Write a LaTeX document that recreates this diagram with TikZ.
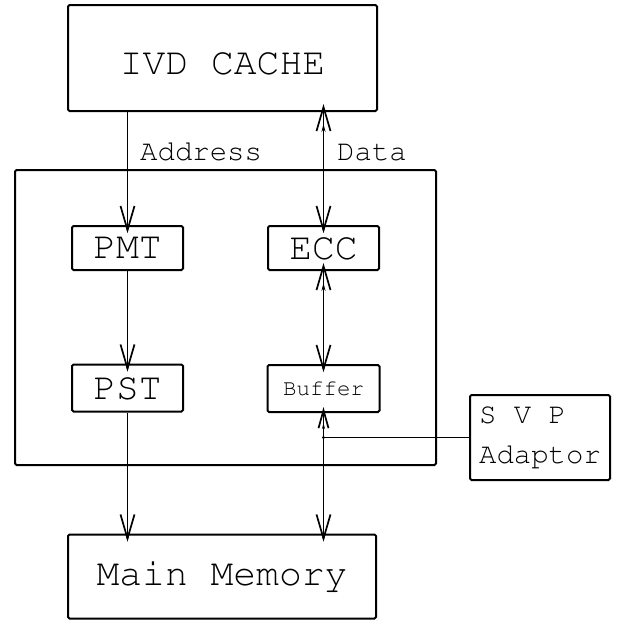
\documentclass[tikz,border=0pt]{standalone}
\usepackage[T1]{fontenc}
\usepackage{tikz}
\usetikzlibrary{arrows.meta, positioning, calc}
\renewcommand{\ttdefault}{pcr}

\begin{document}
\begin{tikzpicture}[
  x=1pt, y=-1pt,
  tipend/.tip={Straight Barb[length=24pt, width=14pt, sep=-8pt] Stealth[length=8pt, width=4pt, sep=-8pt]},
  tipstart/.tip={Stealth[length=8pt, width=4pt, sep=-8pt] Straight Barb[length=24pt, width=14pt, sep=-8pt]},
  tipsmall/.tip={Stealth[length=6pt, width=3pt, sep=-6pt] Straight Barb[length=18pt, width=10pt, sep=-6pt]},
  box/.style={draw, line width=2pt, rounded corners=1.5pt, inner sep=0pt},
  bigtext/.style={font=\ttfamily\fontsize{38}{40}\selectfont},
  midtext/.style={font=\ttfamily\fontsize{29}{40}\selectfont},
  smalltext/.style={font=\ttfamily\fontsize{22.5}{24}\selectfont},
  link/.style={line width=1.7pt},
  fwd/.style={link, -{tipend}},
  both/.style={link, {tipstart}-{tipend}},
  tag/.style={midtext, inner sep=0pt, anchor=base west}
]
\useasboundingbox (0,0) rectangle (617,621);

% frame round the memory unit
\node[box, minimum width=421pt, minimum height=295pt] (unit) at (225.5,317.5) {};

% blocks
\node[box, bigtext, minimum width=309pt, minimum height=106pt, text height=34pt] (cache) at (222.5,58) {IVD CACHE};
\node[box, bigtext, minimum width=111pt, minimum height=44pt] (pmt) at (127.5,248) {PMT};
\node[box, bigtext, minimum width=111pt, minimum height=44pt] (ecc) at (323.5,248) {ECC};
\node[box, bigtext, minimum width=111pt, minimum height=47pt] (pst) at (127.5,388) {PST};
\node[box, smalltext, minimum width=112pt, minimum height=47pt] (buf) at (323.5,388.5) {Buffer};
\node[box, bigtext, minimum width=308pt, minimum height=84pt] (mem) at (222,576.5) {Main Memory};
\node[box, midtext, align=left, minimum width=140pt, minimum height=85pt] (svp) at (540,437.5) {S V P\\Adaptor};

% bus labels
\node[tag] (addr) at (140,160) {Address};
\node[tag] (data) at (337,160) {Data};

% connections
\draw[fwd] (cache.south -| pmt) -- (pmt);
\draw[both] (cache.south -| ecc) -- (ecc);
\draw[fwd] (pmt) -- (pst);
\draw[both] (ecc) -- (buf);
\draw[fwd] (pst) -- (pst |- mem.north);
\draw[link, {tipsmall}-{tipend}] (buf) -- (buf |- mem.north);
\coordinate (tap) at (buf |- svp.west);
\draw[line width=1.1pt] (svp.west) -- (tap);
\fill (tap) circle (1.6pt);
\end{tikzpicture}
\end{document}
